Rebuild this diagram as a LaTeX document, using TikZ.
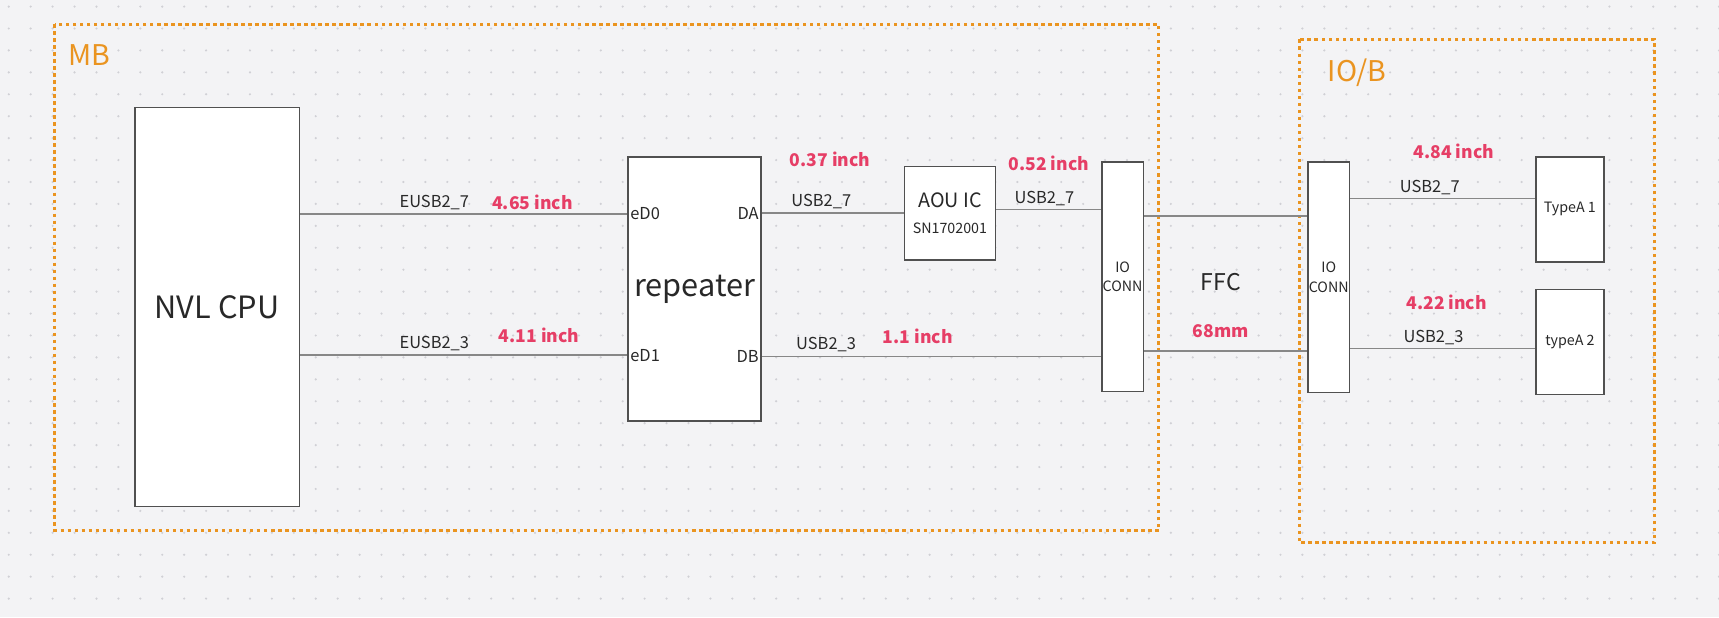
\documentclass[tikz,border=0pt]{standalone}
\usepackage{fontspec}
\setmainfont{Noto Sans CJK SC}
\usetikzlibrary{positioning}
\definecolor{ink}{RGB}{40,40,40}
\definecolor{edge}{RGB}{80,80,80}
\definecolor{wirec}{RGB}{135,135,135}
\definecolor{paper}{RGB}{243,243,245}
\definecolor{speck}{RGB}{208,208,213}
\definecolor{frameor}{RGB}{234,148,32}
\definecolor{lenred}{RGB}{230,62,102}
\tikzset{
  every picture/.style={color=ink, line width=0.7pt},
  box/.style={draw=edge, fill=white, inner sep=0pt, align=center},
  big/.style={font=\fontsize{14}{16}\selectfont},
  tiny/.style={font=\fontsize{6.5}{9}\selectfont},
  port/.style={font=\fontsize{7.5}{9}\selectfont, text=ink, inner sep=1pt},
  wire/.style={draw=wirec, line width=0.7pt},
  lbl/.style={font=\fontsize{7.5}{9}\selectfont, text=ink, inner sep=1.5pt},
  len/.style={font=\fontsize{8}{10}\selectfont\bfseries, text=lenred, inner sep=1.5pt},
  frame/.style={draw=frameor, line width=1.3pt, dash pattern=on 1.6pt off 1.6pt},
  tag/.style={font=\fontsize{13}{15}\selectfont, text=frameor, inner sep=0pt},
}

\begin{document}
\begin{tikzpicture}[x=0.5pt, y=-0.5pt]
  \useasboundingbox[fill=paper] (0,0) rectangle (1568,563);
  \foreach \i in {0,...,78}
    \foreach \j in {0,...,28}
      \fill[speck] (8+20*\i, 6+20*\j) circle (0.55pt);
  % board outlines
  \draw[frame] (50,22) rectangle (1057,484);
  \draw[frame] (1185,36) rectangle (1509,495);
  \node[tag, anchor=west] (mb) at (62,50) {MB};
  \node[tag] (iob) at (1238,66) {IO/B};
  % blocks
  \node[box, big, minimum width=75pt, minimum height=182pt] (cpu) at (198,280) {NVL CPU};
  \node[box, big, minimum width=60.5pt, minimum height=120.5pt] (rep) at (633.5,263.5) {repeater};
  \node[box, minimum width=41.5pt, minimum height=42.5pt, font=\fontsize{9}{11}\selectfont] (aou) at (866.5,194.5) {AOU IC\\[1pt]{\fontsize{6.5}{8}\selectfont SN1702001}};
  \node[box, tiny, minimum width=19pt, minimum height=104.5pt] (cona) at (1024,252.5) {IO\\CONN};
  \node[box, tiny, minimum width=19pt, minimum height=105pt] (conb) at (1212,253) {IO\\CONN};
  \node[box, tiny, minimum width=31pt, minimum height=48pt] (ta1) at (1432,191) {TypeA 1};
  \node[box, tiny, minimum width=31pt, minimum height=48pt] (ta2) at (1432,312) {typeA 2};
  % repeater pins
  \node[port, anchor=west] (ed0) at (rep.west |- 0,195) {eD0};
  \node[port, anchor=west] (ed1) at (rep.west |- 0,324) {eD1};
  \node[port, anchor=east] (da) at (rep.east |- aou.west) {DA};
  \node[port, anchor=east] (db) at (rep.east |- 0,325) {DB};
  % MB wires
  \draw[wire] (cpu.east |- ed0.west) -- (ed0.west)
    node[lbl, pos=.41, above] {EUSB2\_7} node[len, pos=.71, above] {4.65 inch};
  \draw[wire] (cpu.east |- ed1.west) -- (ed1.west)
    node[lbl, pos=.41, above] {EUSB2\_3} node[len, pos=.73, above, yshift=4pt] {4.11 inch};
  \draw[wire] (da.east) -- (aou.west) node[lbl, pos=.42, above] (u7a) {USB2\_7};
  \node[len, above=9pt of u7a, xshift=4pt] {0.37 inch};
  \draw[wire] (aou.east |- 0,191) -- (cona.west |- 0,191) node[lbl, pos=.46, above] (u7b) {USB2\_7};
  \node[len, above=5.5pt of u7b, xshift=2pt] {0.52 inch};
  \draw[wire] (db.east) -- (cona.west |- db.east)
    node[lbl, pos=.19, above] {USB2\_3} node[len, pos=.46, above, yshift=4pt] {1.1 inch};
  % FFC
  \draw[wire] (cona.east |- 0,197) -- (conb.west |- 0,197);
  \draw[wire] (cona.east |- 0,320) -- (conb.west |- 0,320) node[len, pos=.47, above, yshift=4pt] (ffl) {68mm};
  \node[font=\fontsize{10.5}{12}\selectfont, above=10pt of ffl] (ffc) {FFC};
  % IO/B wires
  \draw[wire] (conb.east |- 0,181) -- (ta1.west |- 0,181) node[lbl, pos=.43, above] (u7c) {USB2\_7};
  \node[len, above=6pt of u7c, xshift=11pt] {4.84 inch};
  \draw[wire] (conb.east |- 0,318) -- (ta2.west |- 0,318) node[lbl, pos=.45, above] (u3c) {USB2\_3};
  \node[len, above=5.5pt of u3c, xshift=6pt] {4.22 inch};
\end{tikzpicture}
\end{document}
